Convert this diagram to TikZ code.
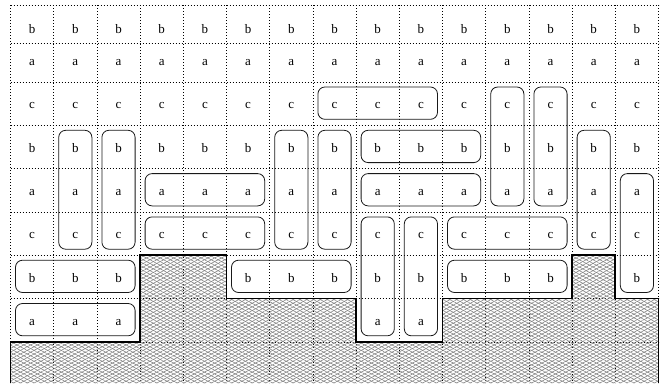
\documentclass[tikz,border=0pt]{standalone}
\usepackage{fontspec}
\setmainfont{Liberation Serif}
\usetikzlibrary{patterns.meta}

\begin{document}
\begin{tikzpicture}[x=1pt,y=-1pt,font=\fontsize{13}{15}\selectfont,
  gridline/.style={line width=0.6pt,dash pattern=on 0.8pt off 2.2pt},
  grp/.style={line width=0.8pt,black!90,rounded corners=7pt},
  ground/.style={line width=1.8pt,line join=miter}]
  \useasboundingbox (0,0) rectangle (669,383);
  \foreach \i in {0,...,15}
    \draw[gridline] ({10.5+43.2*\i},5) -- ({10.5+43.2*\i},383);
  \foreach \y in {5,43.5,82,125.3,168.6,211.9,255.2,298.5,341.8}
    \draw[gridline] (10.5,\y) -- (658.5,\y);
  \fill[pattern={Lines[angle=28,distance=3.2pt,line width=0.55pt]},pattern color=gray]
    (10.5,383) -- (10.5,341.8) -- (140.1,341.8) -- (140.1,255.2) -- (226.5,255.2)
    -- (226.5,298.5) -- (356.1,298.5) -- (356.1,341.8) -- (442.5,341.8) -- (442.5,298.5)
    -- (572.1,298.5) -- (572.1,255.2) -- (615.3,255.2) -- (615.3,298.5) -- (658.5,298.5)
    -- (658.5,383) -- cycle;
  \fill[pattern={Lines[angle=-28,distance=3.2pt,line width=0.55pt]},pattern color=gray]
    (10.5,383) -- (10.5,341.8) -- (140.1,341.8) -- (140.1,255.2) -- (226.5,255.2)
    -- (226.5,298.5) -- (356.1,298.5) -- (356.1,341.8) -- (442.5,341.8) -- (442.5,298.5)
    -- (572.1,298.5) -- (572.1,255.2) -- (615.3,255.2) -- (615.3,298.5) -- (658.5,298.5)
    -- (658.5,383) -- cycle;
  \draw[ground]
    (10.5,383) -- (10.5,341.8) -- (140.1,341.8) -- (140.1,255.2) -- (226.5,255.2)
    -- (226.5,298.5) -- (356.1,298.5) -- (356.1,341.8) -- (442.5,341.8) -- (442.5,298.5)
    -- (572.1,298.5) -- (572.1,255.2) -- (615.3,255.2) -- (615.3,298.5) -- (658.5,298.5)
    -- (658.5,383);
  \foreach \d [count=\c from 0] in {8,8,8,6,6,7,7,7,8,8,7,7,7,6,7}
    \foreach \t/\yb [count=\r] in {b/33.3,a/65.7,c/108.8,b/152.1,a/195.4,c/238.7,b/282,a/325.3}
      {\ifnum\r>\d\else
        \node[anchor=base,inner sep=0] (cell-\c-\r) at ({32.1+43.2*\c},\yb) {\t};
      \fi}
  \foreach \ca/\ra/\cb/\rb in {1/4/1/6,2/4/2/6,3/5/5/5,3/6/5/6,6/4/6/6,7/4/7/6,7/3/9/3,
      8/4/10/4,8/5/10/5,8/6/8/8,9/6/9/8,10/6/12/6,10/7/12/7,11/3/11/5,12/3/12/5,
      13/4/13/6,14/5/14/7,0/7/2/7,0/8/2/8,5/7/7/7}
    \draw[grp] ({10.5+43.2*\ca+5},{82+43.3*(\ra-3)+5})
      rectangle ({10.5+43.2*(\cb+1)-5},{82+43.3*(\rb-2)-6});
\end{tikzpicture}
\end{document}
